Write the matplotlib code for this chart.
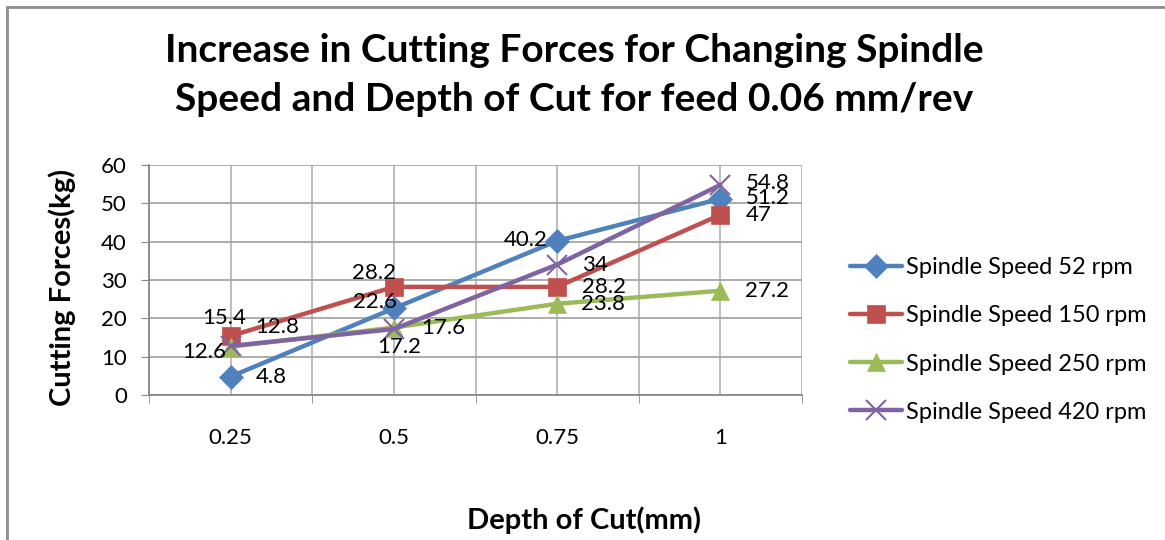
import matplotlib
matplotlib.use("Agg")
import matplotlib.pyplot as plt
from matplotlib.patches import Rectangle

plt.rcParams["font.family"] = ["Lato", "DejaVu Sans"]

depths = ["0.25", "0.5", "0.75", "1"]
series_names = ["Spindle Speed 52 rpm", "Spindle Speed 150 rpm",
                "Spindle Speed 250 rpm", "Spindle Speed 420 rpm"]
speed_52 = [4.8, 22.6, 40.2, 51.2]
speed_150 = [15.4, 28.2, 28.2, 47]
speed_250 = [12.6, 17.6, 23.8, 27.2]
speed_420 = [12.8, 17.2, 34, 54.8]

colors = ["#4F81BD", "#C0504D", "#9BBB59", "#8064A2"]
markers = ["D", "s", "^", "x"]
msizes = [12, 12.5, 13, 15]

# label placement per series/point: (dx px, dy px, ha)
R = (25, 0, "left")
label_pos = [
    [R, (3, 6, "right"), (-9, 1, "right"), (25, 1, "left")],
    [(-6, 18, "center"), (-20, 14, "center"), R, (25, 0, "left")],
    [(-4, -5, "right"), (27, 0, "left"), (24, 0, "left"), R],
    [(25, 19, "left"), (5, -18, "center"), R, (25, 2, "left")],
]

fig = plt.figure(figsize=(11.65, 5.40), dpi=100)
fig.patches.append(Rectangle((7 / 1165, -0.1), 1.2, 1.1 - 7 / 540,
                             transform=fig.transFigure, fill=False,
                             edgecolor="#8c8c8c", linewidth=2))
ax = fig.add_axes([149 / 1165, 1 - 395 / 540, (802 - 149) / 1165, (395 - 165) / 540])

x = list(range(1, len(depths) + 1))
all_series = [speed_52, speed_150, speed_250, speed_420]
for vals, name, c, m, ms, pos in zip(all_series, series_names, colors, markers, msizes, label_pos):
    ax.plot(x, vals, color=c, linewidth=3.2, marker=m, markersize=ms,
            markeredgewidth=1.5 if m == "x" else 0.5, markeredgecolor=c,
            label=name, solid_capstyle="round", zorder=3)
    for xi, v, (dx, dy, ha) in zip(x, vals, pos):
        ax.annotate(f"{v:g}", (xi, v), xytext=(dx, dy), textcoords="offset pixels",
                    ha=ha, va="center", fontsize=16, color="black", zorder=4)

ax.set_xlim(0.5, len(depths) + 0.5)
ax.set_ylim(0, 60)
ax.set_yticks(range(0, 61, 10))
ax.set_xticks(x)
ax.set_xticklabels(depths)
ax.set_xticks([i + 0.5 for i in range(0, len(depths) + 1)], minor=True)
ax.tick_params(axis="x", which="major", length=0, pad=24, labelsize=16)
ax.tick_params(axis="x", which="minor", length=6, color="#888888")
ax.tick_params(axis="y", length=6, color="#888888", labelsize=16, pad=10)
ax.grid(True, which="both", axis="x", color="#b8b8b8", linewidth=1.3)
ax.grid(True, which="major", axis="y", color="#a6a6a6", linewidth=1.3)
for s in ["top", "right"]:
    ax.spines[s].set_visible(False)
for s in ["left", "bottom"]:
    ax.spines[s].set_color("#888888")
    ax.spines[s].set_linewidth(1.3)
ax.set_axisbelow(True)

fig.text(62 / 1165, 1 - 287 / 540, "Cutting Forces(kg)", fontsize=21,
         fontweight="bold", rotation=90, ha="center", va="center")
fig.text(584 / 1165, 1 - 520 / 540, "Depth of Cut(mm)", fontsize=21,
         fontweight="bold", ha="center", va="center")
fig.text(574 / 1165, 1 - 75 / 540,
         "Increase in Cutting Forces for Changing Spindle\nSpeed and Depth of Cut for feed 0.06 mm/rev",
         fontsize=28, fontweight="bold", ha="center", va="center", linespacing=1.5)

ax.legend(loc="center left", bbox_to_anchor=(829 / 1165, 1 - 340 / 540),
          bbox_transform=fig.transFigure, frameon=False, fontsize=17,
          handlelength=2.2, handletextpad=0.15, labelspacing=1.15)

fig.savefig("out.png", dpi=100)
